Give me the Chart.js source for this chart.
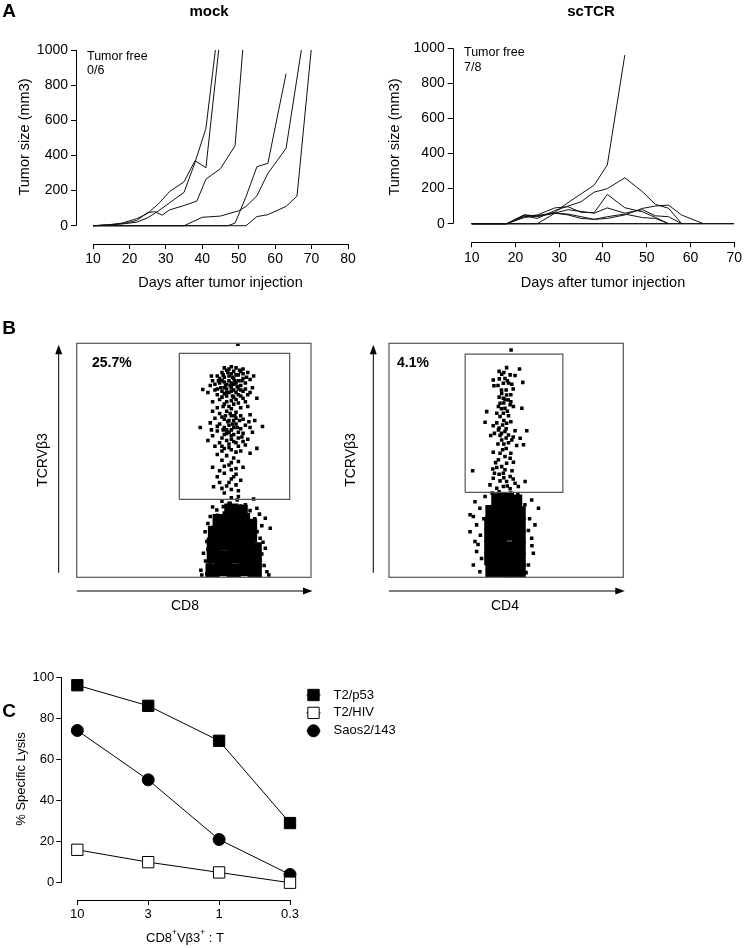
<!DOCTYPE html>
<html>
<head>
<meta charset="utf-8">
<script src="https://cdn.jsdelivr.net/npm/chart.js@4.4.1/dist/chart.umd.min.js"></script>
<style>
  html, body { margin: 0; padding: 0; background: #fff; }
  #wrap { position: relative; width: 744px; height: 948px; }
  #wrap canvas { position: absolute; left: 0; top: 0; }
</style>
</head>
<body>
<div id="wrap">
  <canvas id="mock" width="744" height="948"></canvas>
  <canvas id="sctcr" width="744" height="948"></canvas>
  <canvas id="cd8" width="744" height="948"></canvas>
  <canvas id="cd4" width="744" height="948"></canvas>
  <canvas id="lysis" width="744" height="948"></canvas>
</div>
<script>
// --- panel A: tumour growth, one line per mouse ---
const mockDays = [
  [10, 14, 18, 22, 25, 28, 31, 35, 38, 41, 44.5],
  [10, 18, 22, 25, 28, 31, 35, 38, 41, 43.6],
  [10, 15, 19, 22, 25, 27, 29, 31, 35, 38.5, 41, 45, 49, 51.1],
  [10, 47, 49, 52, 55, 58, 63],
  [10, 35, 40, 45, 50, 52, 55, 58, 63, 67.2],
  [10, 52, 55, 58, 63, 66, 69.9]
];
const mockSizes = [
  [0, 5, 15, 40, 70, 125, 194, 250, 370, 330, 1000],
  [0, 10, 20, 45, 85, 130, 190, 360, 554, 1000],
  [0, 5, 15, 30, 75, 80, 60, 90, 115, 140, 265, 325, 455, 1000],
  [0, 0, 15, 165, 336, 355, 865],
  [0, 0, 48, 55, 85, 110, 170, 298, 440, 1000],
  [0, 0, 52, 63, 110, 168, 1000]
];
const scDays = [
  [10, 18, 22, 25, 29, 32, 35, 38, 41, 45],
  [10, 18, 22, 25, 29, 32, 35, 38, 41, 45, 49, 52, 55, 58],
  [10, 18, 22, 25, 29, 32, 35, 38, 41, 45, 49, 52, 55],
  [10, 18, 22, 25, 29, 32, 35, 38, 41, 45, 49, 52, 55, 58, 63],
  [10, 25, 29, 32, 35, 38, 41, 45, 49, 52, 55, 58],
  [10, 18, 22, 25, 29, 32, 35, 38, 41, 45, 49, 52, 55],
  [10, 70],
  [10, 70]
];
const scSizes = [
  [0, 0, 50, 45, 65, 120, 170, 220, 335, 962],
  [0, 0, 45, 30, 75, 100, 125, 180, 200, 262, 183, 110, 88, 0],
  [0, 0, 40, 50, 90, 97, 65, 63, 167, 91, 68, 36, 0],
  [0, 0, 35, 45, 60, 55, 40, 25, 30, 50, 87, 101, 106, 49, 0],
  [0, 0, 60, 80, 70, 60, 90, 60, 80, 45, 40, 0],
  [0, 0, 50, 40, 60, 50, 30, 25, 40, 55, 35, 30, 0],
  [0, 0],
  [0, 0]
];
const sizeTicks = [0, 200, 400, 600, 800, 1000];
const mockDayTicks = [10, 20, 30, 40, 50, 60, 70, 80];
const scDayTicks = [10, 20, 30, 40, 50, 60, 70];

// --- panel B: flow events, % of axis range ---
const cd8Events = [
  [68.8, 99.6],
  [66, 90], [68, 89.5], [64, 88.5], [70, 88], [62, 87.5], [66, 87], [69, 86.5], [73, 87.5], [60, 86], [63, 85.5],
  [67, 85], [71, 85], [58, 84], [65, 84], [69, 84], [74, 84.5], [61, 83], [64, 82.5], [67, 82.5], [70, 82],
  [72, 83], [57, 82], [63, 81], [66, 81], [69, 80.5], [75, 81], [59, 80], [62, 79.5], [65, 79], [68, 79],
  [71, 79.5], [53.8, 80.3], [60, 78], [64, 77.5], [67, 77], [70, 77.5], [73, 78], [76.9, 76.5], [61, 76], [66, 75.5],
  [58, 75], [63, 74], [69, 74.5], [72, 75], [65, 73], [60, 72.5], [65, 86], [67, 88], [63, 83.5], [68, 83],
  [66, 79.5], [62, 84], [70, 80], [64, 80.5], [66, 83], [68, 86.5], [71, 87], [65, 89], [72, 80.5], [59, 82.5],
  [61, 85], [69, 78], [67, 80], [63, 78.5], [56, 79], [74, 79],
  [64.5, 87.5], [66.5, 85.5], [62.5, 86.5], [69.5, 88.5], [67.5, 84], [63.5, 82], [65.5, 82], [68.5, 81.5], [61.5, 81], [70.5, 84],
  [72.5, 85.5], [60.5, 84], [64, 79], [66.5, 77.5], [62, 77], [68, 76], [71, 76.5], [64, 75], [67, 74], [70, 72.5],
  [62.5, 73], [66, 72], [73, 73], [58, 71], [60, 80.5], [57.5, 86], [75.5, 86], [71, 89], [63, 89.5],
  [64, 71], [68, 70.5], [61, 70], [66, 69], [70, 69], [74, 69.5], [59, 68], [63, 67.5], [67, 67], [71, 67.5],
  [76, 67], [57, 66], [61, 65.5], [65, 65], [68, 65.5], [72, 65], [52.7, 64], [63, 64], [66, 63], [70, 63.5],
  [79.3, 64.4], [60, 62.5], [64, 61.5], [67, 61], [71, 61.5], [75, 62], [58, 60.5], [62, 59.5], [66, 59], [69, 59.5],
  [73, 59], [56, 58.5], [61, 57.5], [65, 57], [68, 57.5], [72, 56.5], [76.9, 55.1], [59, 56], [63, 55], [66, 54.5],
  [70, 54], [74, 53], [60, 52.5], [65, 67], [67, 64], [64, 63], [69, 62], [62, 68.5], [66, 60.5], [68, 68], [63, 61],
  [65.5, 70], [67.5, 69], [63.5, 69], [69.5, 67], [64.5, 66.5], [66.5, 65.5], [62.5, 63], [68.5, 64], [65, 62], [70.5, 60],
  [64, 58.5], [67, 58], [62, 56], [69, 56], [73.5, 66.5], [60, 64.5], [57.5, 63], [74, 64], [65, 55.5], [71, 58],
  [68, 53.5], [62, 54],
  [64, 52], [67, 51], [62, 50], [69, 49.5], [65, 48], [71, 47], [58, 47], [66, 46], [63, 44.5], [68, 44],
  [60, 43], [66, 42], [70, 41.5], [61, 40.5], [64, 39], [68, 39.5], [58.4, 38.7], [62, 38], [66, 37.5], [69, 37],
  [63, 36], [65, 40.5], [66, 49], [63, 47.5], [68, 46.5], [61, 45.5], [67, 43],
  [66, 34], [68.5, 33], [62, 32.5], [65, 31.5], [70, 30.5], [64, 30],
  [69, 34.5], [75.5, 33.5], [65.5, 31.6], [62.6, 30.2], [76.9, 29.5], [59.8, 28.8], [80.5, 25.2], [82.6, 21], [78.3, 16.7], [54.8, 19.5],
  [55.5, 15.3], [54.1, 10.3], [56.9, 5.3], [53.4, 1], [81.2, 2.4], [78.3, 7.4], [80.5, 12.4], [57, 26], [78, 27], [79, 22],
  [56, 23], [55, 7], [80, 5], [79, 10], [53, 3], [82, 1], [58, 30], [72, 31], [67, 28.5], [63, 27.5],
  [77, 19.5], [56, 12], [79.5, 15], [57.5, 17], [55.5, 1.5], [60, 1], [78, 0.8], [74, 28.5], [60, 26.5], [76, 25], [57, 21]
];
const cd8Core = [
  [61, 24], [66, 25], [71, 24.5], [74, 22], [59, 19], [64, 20], [69, 19.5], [74, 18], [58.5, 14], [63, 14.5],
  [68, 14], [73, 13.5], [76, 12], [58.5, 9], [63, 8.5], [68, 9], [73, 8.5], [76, 7], [58, 3], [62, 3.5],
  [67, 3], [72, 3.5], [76, 2.5], [66, 28.5], [70, 28]
];
const cd8GateX = [43.8, 90.9, 90.9, 43.8, 43.8];
const cd8GateY = [33.3, 33.3, 95.7, 95.7, 33.3];

const cd4Events = [
  [52.1, 97.1],
  [50.2, 89.6], [55.7, 89], [48.1, 86.8], [51.7, 86.5], [53.8, 86.2], [44.5, 84.3], [47.1, 84.8], [49.5, 85], [44.8, 81.9],
  [48.8, 82.9], [57.1, 83.3], [52.4, 82.5], [50.5, 84], [47, 88],
  [48.1, 78.6], [50.2, 77.9], [48.8, 76.5], [50.9, 75.8], [47.4, 74.4], [51.7, 73.7], [46.7, 73], [49.5, 72.2], [53.1, 73], [56.7, 72.2],
  [46, 70.1], [48.8, 70.1], [47.4, 68.7], [41.7, 70.8], [52, 75], [49, 74.5], [50.5, 71], [48, 80],
  [49, 87.5], [51, 83], [46.5, 82], [53, 80.5], [50, 80], [47, 77], [52, 78], [49.5, 76], [48, 72], [51, 69],
  [49, 67], [52, 66.5], [46, 66], [50, 63.5], [45, 61.5], [53, 60], [51, 57.5], [46.5, 57], [50, 55], [48.5, 54.5],
  [52, 53], [45.5, 49], [49.5, 46], [47, 44], [45, 44.5], [50.5, 39], [53, 42],
  [41, 66.3], [44.5, 64.8], [48.5, 65.1], [50.2, 65.8], [46.7, 63], [49.5, 62.3], [53.8, 62.6], [58.8, 62.6], [43.4, 60.6], [47.4, 60.6],
  [51, 60.8], [48.1, 58.7], [52.4, 58.7], [56, 59.4], [57.4, 56.6], [54.5, 56.3], [48, 61.5], [50, 59.5], [47, 63.8], [49, 57],
  [44.5, 53.4], [47.4, 53], [49.5, 51.6], [51.7, 50.9], [46.7, 50.2], [53.1, 49.2], [50.2, 48.7], [48.1, 47.3], [35.7, 45.5], [44.3, 46.3],
  [46, 46.9], [48.8, 44.5], [51.7, 43.1], [44.5, 42.3], [47.4, 41.2], [50.2, 40.9], [53.8, 40.2], [58.1, 40.9], [48.8, 38.8], [46, 38.1],
  [51.7, 37.8], [55.2, 38.8], [43.1, 39.5], [49, 42.5], [52.5, 45.5],
  [36.7, 32.3], [34.6, 26.7], [36, 26], [63.8, 29.5], [60.9, 33], [34.6, 19.5], [37.4, 22.4], [36.7, 15.3], [60.9, 16.7], [61.6, 10.3],
  [37.4, 11], [36, 5.3], [38.8, 2.4], [59.5, 5.3], [62.3, 22.4], [38.8, 29.5], [41, 34.5], [44, 36], [55, 35.5], [58, 31],
  [39, 18], [60, 25], [59.5, 20], [39.5, 8], [58.5, 2], [38, 14], [40.5, 25], [61, 13.5], [47, 36.5], [52, 36]
];
const cd4Core = [
  [46.5, 33], [50.5, 33.5], [54, 32.5], [44, 28], [48, 28.5], [52, 28], [55.5, 27.5], [43.5, 23], [47.5, 23], [51.5, 23.5],
  [55.5, 22.5], [43.5, 18], [47.5, 18], [51.5, 18.5], [55.5, 17.5], [43.5, 13], [47.5, 13], [51.5, 12.5], [55.5, 12.5], [43.5, 8],
  [47.5, 8], [51.5, 7.5], [55.5, 7.5], [44, 3], [48, 3], [52, 2.5], [55.5, 3]
];
const cd4GateX = [32.5, 74.2, 74.2, 32.5, 32.5];
const cd4GateY = [36.3, 36.3, 95.4, 95.4, 36.3];

// --- panel C: cytotoxicity ---
const ratioLabels = ['10', '3', '1', '0.3'];
const lysisP53 = [96, 86, 69, 29];
const lysisHIV = [16, 10, 5, 0];
const lysisSaos = [74, 50, 21, 4];
const lysisTicks = [0, 20, 40, 60, 80, 100];

const FONT = '"Liberation Sans", Arial, Helvetica, sans-serif';
Chart.defaults.font.family = FONT;
Chart.defaults.color = '#000';

const toPoints = (pairs) => pairs.map(([x, y]) => ({ x, y }));
const zipXY = (xs, ys) => xs.map((x, i) => ({ x, y: ys[i] }));

function textPlugin(items) {
  return {
    id: 'textLayer',
    afterDraw(chart) {
      const ctx = chart.ctx;
      items.forEach((it) => {
        ctx.save();
        ctx.fillStyle = '#000';
        ctx.textBaseline = 'middle';
        ctx.translate(it.x, it.y);
        if (it.rot) ctx.rotate(it.rot * Math.PI / 180);
        if (it.parts) {
          let total = 0;
          it.parts.forEach((p) => {
            ctx.font = `${p.sup ? it.size * 0.65 : it.size}px ${FONT}`;
            total += ctx.measureText(p.text).width;
          });
          let cx = -total / 2;
          ctx.textAlign = 'left';
          it.parts.forEach((p) => {
            ctx.font = `${p.sup ? it.size * 0.65 : it.size}px ${FONT}`;
            ctx.fillText(p.text, cx, p.sup ? -it.size * 0.38 : 0);
            cx += ctx.measureText(p.text).width;
          });
        } else {
          ctx.font = `${it.bold ? 'bold ' : ''}${it.size}px ${FONT}`;
          ctx.textAlign = it.anchor || 'center';
          ctx.fillText(it.text, 0, 0);
        }
        ctx.restore();
      });
    }
  };
}

// axis lines that only span the data range (GraphPad style, detached axes)
function axisLines(xRange, yRange) {
  return {
    id: 'axisLines',
    afterDraw(chart) {
      const { ctx, chartArea, scales } = chart;
      const left = Math.round(chartArea.left) + 0.5;
      const bottom = Math.round(chartArea.bottom) + 0.5;
      ctx.save();
      ctx.strokeStyle = '#000';
      ctx.lineWidth = 1;
      ctx.beginPath();
      ctx.moveTo(left, scales.y.getPixelForValue(yRange[0]));
      ctx.lineTo(left, scales.y.getPixelForValue(yRange[1]));
      ctx.moveTo(scales.x.getPixelForValue(xRange[0]), bottom);
      ctx.lineTo(scales.x.getPixelForValue(xRange[1]), bottom);
      ctx.stroke();
      ctx.restore();
    }
  };
}

function flowFrame(yArrowGap) {
  return {
    id: 'flowFrame',
    afterDraw(chart) {
      const { ctx, chartArea: a } = chart;
      ctx.save();
      ctx.strokeStyle = '#555';
      ctx.lineWidth = 1.2;
      ctx.strokeRect(a.left, a.top, a.right - a.left, a.bottom - a.top);
      ctx.strokeStyle = '#000';
      ctx.fillStyle = '#000';
      ctx.lineWidth = 1;
      const ax = a.left - yArrowGap;
      ctx.beginPath();
      ctx.moveTo(ax, a.bottom - 4.5);
      ctx.lineTo(ax, a.top + 8);
      ctx.stroke();
      ctx.beginPath();
      ctx.moveTo(ax, a.top + 1.5);
      ctx.lineTo(ax - 3.5, a.top + 11);
      ctx.lineTo(ax + 3.5, a.top + 11);
      ctx.closePath();
      ctx.fill();
      const ay = a.bottom + 13.7;
      ctx.beginPath();
      ctx.moveTo(a.left, ay);
      ctx.lineTo(a.right - 6, ay);
      ctx.stroke();
      ctx.beginPath();
      ctx.moveTo(a.right + 1.5, ay);
      ctx.lineTo(a.right - 8, ay - 3.5);
      ctx.lineTo(a.right - 8, ay + 3.5);
      ctx.closePath();
      ctx.fill();
      ctx.restore();
    }
  };
}

function sideLegend(x, y0, step) {
  return {
    id: 'sideLegend',
    afterDraw(chart) {
      const ctx = chart.ctx;
      chart.data.datasets.forEach((ds, i) => {
        const y = y0 + i * step;
        ctx.save();
        ctx.strokeStyle = '#000';
        ctx.lineWidth = 1;
        ctx.beginPath();
        ctx.moveTo(x - 7, y);
        ctx.lineTo(x + 7, y);
        ctx.stroke();
        ctx.fillStyle = ds.pointBackgroundColor;
        ctx.beginPath();
        if (ds.pointStyle === 'circle') {
          ctx.arc(x, y, ds.pointRadius, 0, Math.PI * 2);
        } else {
          const s = ds.pointRadius * Math.SQRT1_2;
          ctx.rect(x - s, y - s, 2 * s, 2 * s);
        }
        ctx.fill();
        ctx.stroke();
        ctx.fillStyle = '#000';
        ctx.font = `13px ${FONT}`;
        ctx.textAlign = 'left';
        ctx.textBaseline = 'middle';
        ctx.fillText(ds.label, x + 20, y);
        ctx.restore();
      });
    }
  };
}

function tickScale(opts) {
  return {
    type: 'linear',
    min: opts.min,
    max: opts.max,
    afterBuildTicks: (s) => { s.ticks = opts.ticks.map((v) => ({ value: v })); },
    afterFit: (s) => { if (opts.width) s.width = opts.width; if (opts.height) s.height = opts.height; },
    grid: { drawOnChartArea: false, drawTicks: true, tickLength: opts.tickLength, color: '#000', lineWidth: 1 },
    border: { display: false },
    ticks: {
      color: '#000',
      font: { size: opts.fontSize },
      padding: opts.padding,
      autoSkip: false,
      maxRotation: 0,
      callback: opts.callback || ((v) => v)
    }
  };
}

function growthChart(id, days, sizes, xMin, xMax, dayTicks, yMin, padding, texts) {
  return new Chart(document.getElementById(id), {
    type: 'scatter',
    data: {
      datasets: days.map((d, i) => ({
        data: zipXY(d, sizes[i]),
        showLine: true,
        borderColor: '#111',
        borderWidth: 1,
        pointRadius: 0,
        tension: 0
      }))
    },
    options: {
      responsive: false,
      animation: false,
      events: [],
      layout: { padding },
      plugins: { legend: { display: false }, tooltip: { enabled: false } },
      scales: {
        x: tickScale({ min: xMin, max: xMax, ticks: dayTicks, height: 40, tickLength: 5, fontSize: 14, padding: 2 }),
        y: tickScale({ min: yMin, max: 1000, ticks: sizeTicks, width: 40, tickLength: 5, fontSize: 14, padding: 3 })
      }
    },
    plugins: [axisLines([dayTicks[0], dayTicks[dayTicks.length - 1]], [0, 1000]), textPlugin(texts)]
  });
}

growthChart('mock', mockDays, mockSizes, 5.33, 80, mockDayTicks, -104,
  { left: 36, top: 50, right: 396, bottom: 664 },
  [
    { text: 'A', x: 9, y: 12, size: 19, bold: true },
    { text: 'mock', x: 209, y: 12, size: 15, bold: true },
    { text: 'Tumor free', x: 87, y: 57, size: 12.5, anchor: 'left' },
    { text: '0/6', x: 87, y: 71, size: 12.5, anchor: 'left' },
    { text: 'Tumor size (mm3)', x: 25, y: 137, size: 14.5, rot: -90 },
    { text: 'Days after tumor injection', x: 220.5, y: 283, size: 14.5 }
  ]);

growthChart('sctcr', scDays, scSizes, 5.66, 70, scDayTicks, -106,
  { left: 412.7, top: 48.3, right: 9.7, bottom: 665.7 },
  [
    { text: 'scTCR', x: 591, y: 12, size: 15, bold: true },
    { text: 'Tumor free', x: 464, y: 53, size: 12.5, anchor: 'left' },
    { text: '7/8', x: 464, y: 67.5, size: 12.5, anchor: 'left' },
    { text: 'Tumor size (mm3)', x: 395, y: 137, size: 14.5, rot: -90 },
    { text: 'Days after tumor injection', x: 603, y: 283, size: 14.5 }
  ]);

function flowChart(id, events, core, coreRadius, gateX, gateY, padding, arrowGap, texts) {
  return new Chart(document.getElementById(id), {
    type: 'scatter',
    data: {
      datasets: [
        { data: zipXY(gateX, gateY), showLine: true, borderColor: '#555', borderWidth: 1.2, pointRadius: 0 },
        { data: toPoints(events), pointStyle: 'rect', pointRadius: 2.5, backgroundColor: '#000', borderWidth: 0 },
        { data: toPoints(core), pointStyle: 'rect', pointRadius: coreRadius, backgroundColor: '#000', borderWidth: 0 }
      ]
    },
    options: {
      responsive: false,
      animation: false,
      events: [],
      layout: { padding },
      plugins: { legend: { display: false }, tooltip: { enabled: false } },
      scales: {
        x: { type: 'linear', min: 0, max: 100, display: false },
        y: { type: 'linear', min: 0, max: 100, display: false }
      }
    },
    plugins: [flowFrame(arrowGap), textPlugin(texts)]
  });
}

flowChart('cd8', cd8Events, cd8Core, 10, cd8GateX, cd8GateY,
  { left: 76.7, top: 343.3, right: 433, bottom: 370.7 }, 18,
  [
    { text: 'B', x: 9, y: 329, size: 19, bold: true },
    { text: '25.7%', x: 92, y: 363, size: 14, bold: true, anchor: 'left' },
    { text: 'TCRV\u03b23', x: 43, y: 460, size: 14, rot: -90 },
    { text: 'CD8', x: 185, y: 606, size: 14 }
  ]);

flowChart('cd4', cd4Events, cd4Core, 9.5, cd4GateX, cd4GateY,
  { left: 389, top: 343.3, right: 120.7, bottom: 370.7 }, 15.7,
  [
    { text: '4.1%', x: 397, y: 363, size: 14, bold: true, anchor: 'left' },
    { text: 'TCRV\u03b23', x: 351, y: 460, size: 14, rot: -90 },
    { text: 'CD4', x: 505, y: 606, size: 14 }
  ]);

const lysisSeries = [
  { label: 'T2/p53', values: lysisP53, style: 'rect', radius: 8, fill: '#000' },
  { label: 'T2/HIV', values: lysisHIV, style: 'rect', radius: 8, fill: '#fff' },
  { label: 'Saos2/143', values: lysisSaos, style: 'circle', radius: 6, fill: '#000' }
];

new Chart(document.getElementById('lysis'), {
  type: 'scatter',
  data: {
    datasets: lysisSeries.map((s) => ({
      label: s.label,
      data: s.values.map((v, i) => ({ x: i, y: v })),
      showLine: true,
      borderColor: '#000',
      borderWidth: 1,
      pointStyle: s.style,
      pointRadius: s.radius,
      pointBackgroundColor: s.fill,
      pointBorderColor: '#000',
      pointBorderWidth: 1,
      clip: false
    }))
  },
  options: {
    responsive: false,
    animation: false,
    events: [],
    layout: { padding: { left: 21.3, top: 677, right: 454, bottom: 8 } },
    plugins: { legend: { display: false }, tooltip: { enabled: false } },
    scales: {
      x: tickScale({ min: -0.226, max: 3, ticks: [0, 1, 2, 3], height: 40, tickLength: 5, fontSize: 13, padding: 2,
        callback: (v) => ratioLabels[v] }),
      y: tickScale({ min: -8.4, max: 100, ticks: lysisTicks, width: 40, tickLength: 5, fontSize: 13, padding: 2 })
    }
  },
  plugins: [
    axisLines([0, 3], [0, 100]),
    sideLegend(313.5, 695, 17.9),
    textPlugin([
      { text: 'C', x: 9, y: 712, size: 19, bold: true },
      { text: '% Specific Lysis', x: 21.7, y: 779, size: 13, rot: -90 },
      { x: 185, y: 938, size: 13, parts: [
        { text: 'CD8' }, { text: '+', sup: true }, { text: 'V\u03b23' }, { text: '+', sup: true }, { text: ' : T' }
      ] }
    ])
  ]
});
</script>
</body>
</html>
